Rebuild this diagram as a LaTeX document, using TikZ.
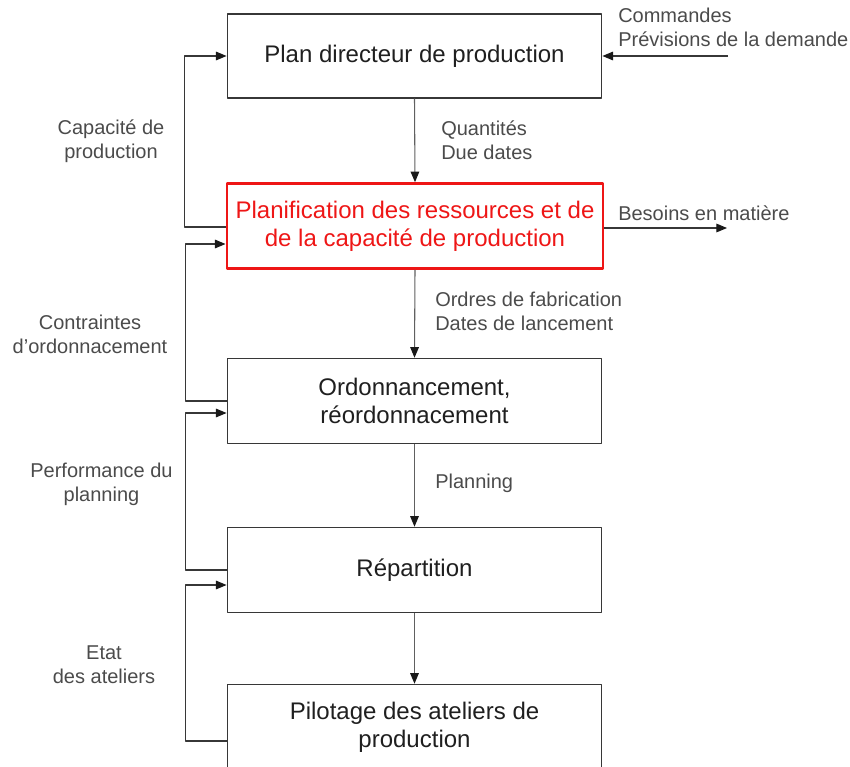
\documentclass[tikz,border=0pt]{standalone}
\usepackage{fontspec}
\setmainfont{Liberation Sans}
\usetikzlibrary{arrows.meta,calc}
\definecolor{boxline}{RGB}{55,55,55}
\definecolor{labtext}{RGB}{75,75,75}
\definecolor{pdrred}{RGB}{238,22,22}
\tikzset{
  bloc/.style={draw=boxline, line width=0.9pt, minimum width=281pt, minimum height=63pt, align=center,
    font=\fontsize{18}{21}\selectfont, text=black!88},
  lab/.style={font=\fontsize{15}{18}\selectfont, text=labtext, align=left, anchor=west, inner sep=0pt},
  labc/.style={font=\fontsize{15}{18}\selectfont, text=labtext, align=center, inner sep=0pt},
  lien/.style={->, draw=boxline, line width=0.8pt},
}
\begin{document}
\begin{tikzpicture}[line join=round, >={Triangle[length=8pt,width=6.5pt,color=black!90]}, x=0.75pt, y=0.75pt]
\def \xmax{850};
\def \ymin{-767};
\useasboundingbox (0,0) rectangle (\xmax,\ymin);
\clip (0,0) rectangle (\xmax,\ymin);
% boites
\node[bloc] (plan) at (414.5,-56) {Plan directeur de production};
\node[bloc, draw=pdrred, text=pdrred, line width=2.2pt, minimum width=282pt, minimum height=63.5pt] (pdr) at (415,-226)
  {Planification des ressources et de\\de la capacité de production};
\node[bloc, minimum height=64pt] (ord) at (414.5,-401) {Ordonnancement,\\réordonnacement};
\node[bloc, minimum height=64pt] (rep) at (414.5,-570) {Répartition};
\node[bloc, minimum height=64pt] (pil) at (414.5,-727) {Pilotage des ateliers de\\production};
% flux descendant
\foreach \a/\b in {plan/pdr,pdr/ord,ord/rep,rep/pil}{\draw[lien, draw=gray!75!black] (\a.south) -- (\b.north);}
% entrees / sorties
\coordinate (cmd) at (728,-56);
\coordinate (bes) at (727,-228);
\draw[lien] (cmd) -- (plan.east);
\draw[lien] ($(pdr.east)+(0,-2)$) -- (bes);
% retours
\draw[lien] ($(pdr.west)+(0,-1)$) -- ++(-41.5,0) |- (plan.west);
\draw[lien] (ord.west) -- ++(-41,0) |- ($(pdr.west)+(0,-18)$);
\draw[lien] (rep.west) -- ++(-41,0) |- ($(ord.west)+(0,-12)$);
\draw[lien] ($(pil.west)+(0,-14)$) -- ++(-41,0) |- ($(rep.west)+(0,-15)$);
% etiquettes
\node[lab] (lcmd) at (618,-27) {Commandes\\Prévisions de la demande};
\node[lab] (lbes) at (618,-213) {Besoins en matière};
\node[lab] (lqte) at (441,-140) {Quantités\\Due dates};
\node[lab] (lof) at (435,-311.5) {Ordres de fabrication\\Dates de lancement};
\node[lab] (lpla) at (435,-483) {Planning};
\node[labc] (lcap) at (111,-141) {Capacité de\\production};
\node[labc] (lcon) at (90,-334) {Contraintes\\d’ordonnacement};
\node[labc] (lperf) at (101.5,-484) {Performance du\\planning};
\node[labc] (leta) at (104,-665) {Etat\\des ateliers};
\end{tikzpicture}
\end{document}
